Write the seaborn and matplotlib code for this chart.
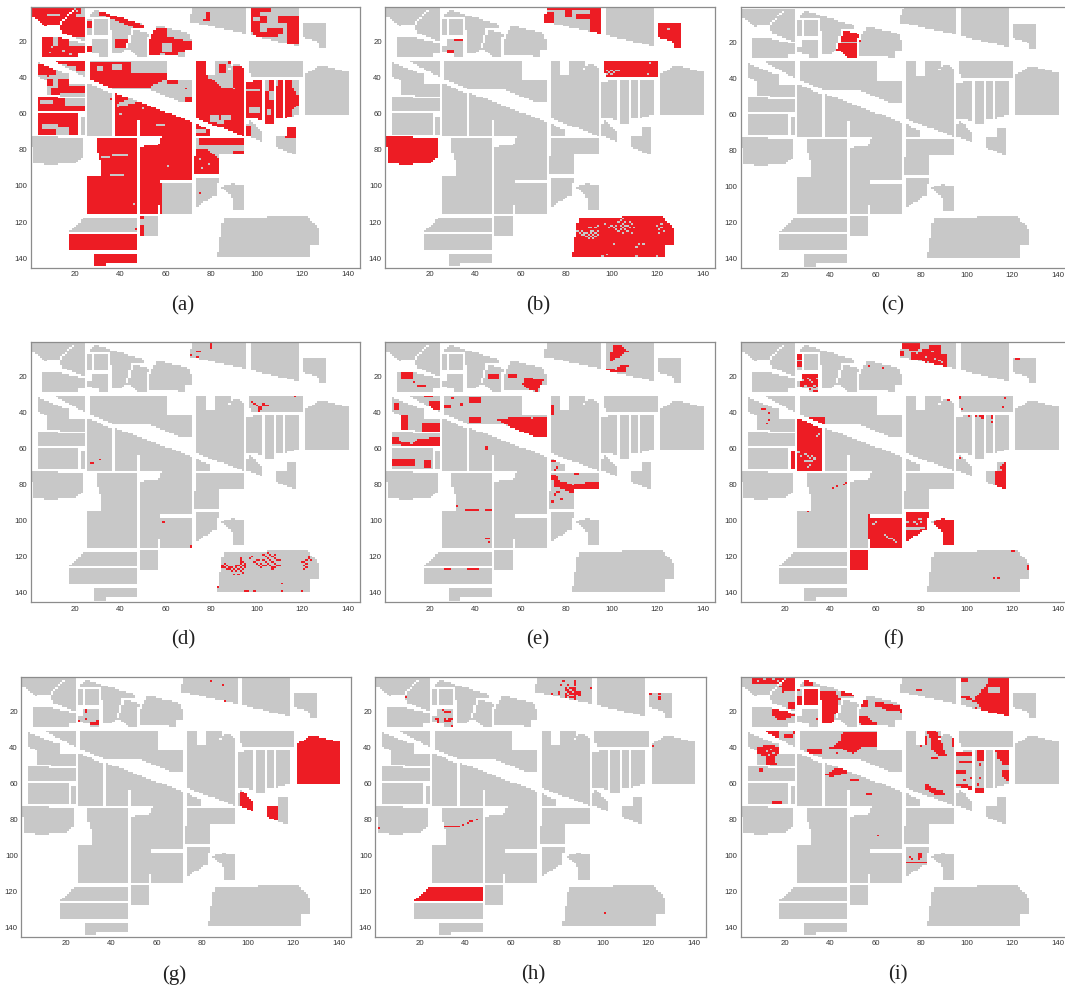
import numpy as np
import pandas as pd
import matplotlib
matplotlib.use('Agg')
import matplotlib.pyplot as plt
import seaborn as sns
from matplotlib.colors import ListedColormap
from matplotlib.path import Path

# Field outlines of the scene, (column, row)
FIELDS = [
    [(1,1),(20,1),(13,10),(7,11),(1,6)],
    [(20.5,1),(24.5,1),(24.5,20),(15,15),(13,11.5)],
    [(5.5,18),(11,17),(24.5,21),(24.5,26),(21.5,26),(21.5,28),(5.5,28)],
    [(25.5,7),(27.5,7),(27.5,16),(25.5,16)],
    [(28.5,7),(34.5,7),(34.5,16),(28.5,16)],
    [(28,18),(34.5,18),(34.5,28.5),(31,28.5),(31,27),(25.5,25.5),(25.5,22),(28,22)],
    [(26.5,5.5),(29,2.5),(50.5,10.5),(50.5,13),(45,12.5),(42,24),(40,26),(37,26),(35.5,6.5),(27,6.5)],
    [(46,13),(53,15.5),(51,20),(51.5,28.5),(48.5,28.5),(43,24)],
    [(56.7,11),(69.9,15.2),(71.3,19.6),(71.3,24.8),(68.4,24.8),(68.4,28.8),(65.5,28.8),(65,27.6),(52.3,27.6),(52.3,20.2),(54.5,13.7)],
    [(72.5,0.5),(95,0.5),(95,15.5),(70.5,9),(70.5,6)],
    [(97.5,0.5),(118.5,0.5),(118.5,22.5),(97.5,16.5)],
    [(120.5,9),(130.4,9.7),(130.4,23.9),(127.8,23.9),(127,20.2),(120.5,17.4)],
    [(3.6,31.6),(17,38),(17,43.6),(24.4,43.6),(24.4,50.6),(7.5,49.7),(7.5,41.4),(3.6,39.5)],
    [(10,30),(24.5,30),(24.5,40)],
    [(3.4,50.6),(24.5,51.5),(24.5,58.3),(3.4,58.3)],
    [(3.4,59.8),(21.5,59.8),(21.5,71.8),(3.4,71.8)],
    [(22.5,61.7),(24.5,61.7),(24.5,71.8),(22.5,71.8)],
    [(0.4,72.7),(12,72.7),(12,73.6),(23.4,73.6),(23.4,83.8),(20,87),(9.7,88.4),(1.7,87.5),(1.2,80)],
    [(26.5,30.5),(60.5,30.5),(60.5,41.5),(71.5,41.5),(71.5,53.5),(67,53.5),(51,46),(37,46),(26.5,41)],
    [(25.6,43.2),(36.4,48.8),(36.4,72.3),(25.6,72.3)],
    [(37.6,48.4),(71.3,64.4),(71.3,96.3),(57.4,96.3),(57.4,106.8),(56.4,115.1),(48.6,115.1),(48.6,78.2),(56.7,77.3),(58.1,72.7),(48.6,72.7),(48.6,63.5),(47.4,63.5),(47.4,72.3),(37.6,72.3)],
    [(29.5,73.6),(47.4,73.6),(47.4,115.1),(25.6,115.1),(25.6,94.5),(31.7,94.5),(31,85.6),(29.5,80)],
    [(57.4,98.2),(71.3,98.2),(71.3,115.1),(57.4,115.1)],
    [(24.4,117.3),(47.4,117.3),(47.4,125.3),(17.5,125.3)],
    [(17.5,126.5),(47.4,126.5),(47.4,135),(17.5,135)],
    [(48.6,116.6),(56.4,116.6),(56.4,127.1),(48.6,127.1)],
    [(28.5,137.6),(47.4,137.6),(47.4,142.4),(33.5,142.4),(33.5,144.5),(28.5,144.5)],
    [(73.5,30),(77.5,30),(77.5,38.5),(81.5,38.5),(81.5,30),(88,30),(88,35),(91,32),(94.5,35),(94.5,72.5),(73.5,62.5)],
    [(96.5,30),(120.4,30),(120.4,39.5),(97.5,39.5),(96.5,35)],
    [(95.5,42.9),(102.4,41),(102.4,63.5),(95.5,62)],
    [(103.6,41),(107.4,41),(107.4,65.7),(103.6,65.7)],
    [(108.4,41),(111.5,41),(111.5,62.6),(108.4,62.6)],
    [(112.4,41),(118.5,41),(118.5,59.8),(115.3,61.5),(112.4,62.6)],
    [(121.5,38),(127.8,33),(140.2,36.8),(140.2,60.7),(121.5,60.7)],
    [(73.5,65.7),(79.7,69),(79.7,72.3),(73.5,72.3)],
    [(95.5,72.3),(95.5,66),(97,63.5),(102.4,70),(102.4,75.5)],
    [(113.8,67.7),(117.4,67.7),(117.4,82.9),(113.8,81),(108.4,78.2),(108.4,72.7),(113.8,72.7)],
    [(73.5,73.6),(94.5,73.6),(94.5,82.9),(83,82.9),(83,93.4),(72.5,93.4),(72.5,83.8),(73.5,83.8)],
    [(73.5,95.4),(83.3,95.4),(82.3,105),(77.2,108.7),(73.5,112.4)],
    [(83.8,100.4),(88.9,98.9),(94.5,99.4),(94.5,113.3),(89.7,113.3),(88.9,105.9)],
    [(85.5,117.3),(104.3,117.3),(104.3,116.2),(121.9,116.2),(127.8,124.3),(127.8,132.6),(123.4,132.6),(123.4,139.4),(82.6,139.4),(84.5,124.3)],
]

# Red class in each panel: polygons, boxes (x0, x1, y0, y1), grey holes, single cells
POLYS_A = [
    [(5,18),(11,17),(17,17),(17,22),(25,22),(25,28),(5,28)],
    [(31,3),(40,6),(50,11),(50,13),(46,12),(38,8),(31,5)],
    [(56,12),(60,12),(60,17),(71.5,20),(71.5,25),(65,25),(65,29),(60,29),(60,26),(52,29),(52,18)],
    [(4,32),(11,33),(11,38),(8,39),(4,38)],
    [(27,31),(44,31),(44,37),(53,37),(60,37),(60,41),(53,45),(35,45),(27,41)],
    [(37.5,48),(44,51.5),(38,55),(38,56.5),(50,53),(72,64),(72,97),(58,97),(58,116),(37,116),(37,57)],
    [(73,40),(80,41),(84,45),(90,46),(90,33),(95,33),(95,73),(73,63)],
    [(73,79),(77,79),(83,85),(83,94),(73,94)],
    [(112.5,41),(115,41),(115,44),(118.5,50),(118.5,55),(115,59),(115,63),(112.5,63)],
    [(78,3),(80,3),(79,8),(77,8)],
]
RECTS_A = [
    (1,20,1,12),(14,24.5,7,17),(18,22,1,4),(25.5,27.5,9,12),(25.5,27.5,22,26),(38,43,19,23),
    (10,16,30,32),(17,24.5,31,33),(21,24.5,33,36),(8,10,41,44),(13,17,41,48),(17,25,45,48),(10,13,46,49),
    (4,15,51,55),(4,25,56,58),(3,22,59,72),(61,65,41,43),(69,71,51,53),(26,48,73,116),
    (48.5,50,116,118),(48.5,50,122,127),(17,48,126,136),(28,48,137,145),(73,78,30,40),(84,86,33,37),(88,90,30,32),
    (73,80,66,73),(75,95,74,77),(90,95,81,83),(95,97,67,72),(95,103,42,63),(103,108,41,66),(108,112,41,63),
    (113,117,68,73),(98,101,1,14),(101,106,1,3),(101,104,6,9),(99,109,15,17),(105,111,13,15),(110,118,6,9),(114,118.5,9,21),
]
HOLES_A = [
    (11,12.5,17,22),(6,12,66,68),(12,17,68,71),(5,10,53,54),(30,32,34,36),(37,40,33,35),(59,62,21,25),
    (85,88,61,63),(80,83,61,64),(83,85,64,65),(74,77,69,70),(32,35,84,84),(37,43,83,83),(36,41,94,94),
    (56,59,66,66),(96,101,47,47),(97,101,57,59),(103,105,41,47),(106,107.5,48,52),(105,106,58,60),(108,109,41,44),
    (8,13,5,5),(99,101,7,8),
]
CELLS_A = [(26,42),(36,52),(75,104),(47,124),(58,38),(61,43),(69,46)]
HOLE_CELLS_A = [(12,20),(15,25),(10,23),(18,27),(9,26),(40,60),(50,57),(61,89),(46,110),(75,85),(79,88),(76,90),(83,84),(20,2),(21,3)]

RECTS_B = [(71,74,4,9),(72,95,1,2),(91,95,1,16),(85,91,5,7),(80,82,2,6),(120,131,9,24),(31,34,19,19),(28,30,25,26),
           (96,121,30,40),(0,25,72,89),(82,128,116,140)]
HOLE_CELLS_B = [
    (125,13),(117,32),(116,38),(98,36),(99,37),(100,38),(101,37),(102,36),(103,36),(98,38),(100,36),
    (85,125),(86,126),(87,125),(87,127),(88,126),(88,127),(89,126),(89,128),(90,127),(91,125),(91,126),(91,128),(92,125),(92,127),
    (93,123),(93,126),(93,128),(94,122),(94,125),(94,127),(90,123),(91,123),(92,129),(90,129),
    (97,121),(99,123),(100,122),(101,123),(102,122),(102,124),(103,120),(103,125),(104,119),(104,122),(104,124),(105,118),(105,121),
    (105,123),(105,126),(106,120),(106,122),(106,124),(107,122),(107,125),(108,120),(108,123),(109,121),(109,126),(110,123),
    (120,122),(121,124),(121,126),(122,123),(122,121),(123,125),(101,132),(111,134),(112,132),(114,132),(96,139),(98,138),(111,139),(120,139),
]

RECTS_C = [(45,53.5,14,19),(43,52,21,29)]

CELLS_D = [
    (71,8),(74,6),(75,6),(74,9),(80,2),(80,3),(80,4),(121,19),(96,32),(117,31),(98,34),(99,35),(100,36),(101,37),(101,38),(101,39),
    (102,37),(103,36),(104,36),(105,36),(102,38),(103,35),(27,68),(28,68),(31,66),(59,101),(71,114),(71,115),
    (85,125),(85,126),(86,124),(86,126),(87,125),(87,127),(88,126),(88,127),(89,126),(89,128),(90,127),(90,130),(91,125),(91,126),(91,128),
    (92,125),(92,127),(92,130),(93,121),(93,122),(93,123),(93,124),(93,126),(93,128),(94,123),(94,125),(94,127),(94,129),(95,124),(95,125),
    (95,126),(97,121),(98,120),
    (99,123),(100,122),(100,124),(101,122),(101,125),(102,124),(102,126),(103,119),(103,122),(103,125),(104,120),(104,123),(104,125),(105,118),
    (105,121),(105,124),(106,119),(106,122),(106,125),(107,120),(107,123),(107,126),(107,127),(108,119),(108,121),(108,124),(108,126),(109,122),(109,125),(110,122),(110,125),
    (120,123),(121,123),(121,125),(121,127),(122,122),(122,124),(122,126),(123,120),(123,121),(124,122),
    (83,137),(95,139),(96,139),(99,139),(111,135),(111,139),(120,139),
]

POLYS_E = [
    [(101,2),(104,2),(107,6),(103,9),(100,11),(100,7)],
    [(97.5,15),(102,16),(105,13),(107,14),(106,17),(98,18)],
    [(62,20),(65,21),(70,22),(67,28),(64,27),(61,24)],
    [(50,44),(60,42),(65,43),(71.5,42),(71.5,53),(68,54),(62,51),(56,48)],
    [(4,53),(6,53),(7,56),(12,57),(15,55),(24.5,53),(24.5,58),(17,58),(12,59),(4,57)],
    [(73,74),(75,74),(77,78),(83,80),(95,78),(95,82),(88,82),(84,85),(80,83),(75,81)],
]
RECTS_E = [
    (55,58,19,20),(46,50,19,21),(8,12,18,21),(18,21,31,31),(20,24.5,34,38),(27,29,36,37),(38,42,32,34),(38,42,43,45),
    (73,74.5,36,41),(5,6,35,38),(8,10,42,49),(17,25,46,50),(4,13,66,69),(18,20,67,70),(74,76,67,67),
    (36,41,94,94),(45,47,94,94),(45,46,110,110),(27,29,127,127),(37,41,127,127),
]
CELLS_E = [(13,23),(15,25),(16,25),(17,25),(18,25),(30,32),(34,35),(34,36),(23,46),(45,59),(45,60),(76,70),(76,71),(75,72),
           (84,74),(85,74),(75,85),(75,86),(76,84),(77,84),(74,90),(78,88),(74,89),(32,92),(46,112)]

RECTS_F = [
    (72,75,2,4),(70,72,6,8),(75,79,2,5),(76,80,7,10),(81,84,5,14),(84,88,3,13),(86,91,8,14),
    (27,35,19,25),(26,27,7,10),(26,27,12,14),(26,37,43,73),(22,25,61,72),(112.5,118,73,83),(115,118,68,73),
    (57,72,97,116),(48,57,116,128),(73,84,95,113),(83,95,98,114),
]
HOLE_CELLS_F = [
    (29,63),(30,64),(31,65),(32,64),(33,65),(29,67),(30,67),(31,67),(32,67),(33,66),(27,64),(26,62),(31,69),(30,70),(34,53),(35,52),
    (115,68),(115,69),(116,68),(115,72),(64,108),(65,109),(66,110),(67,110),(68,111),(69,112),(60,101),(59,102),
    (74,104),(75,104),(76,104),(77,104),(78,104),(79,104),(80,104),(81,104),(74,105),(75,105),(76,105),(77,105),(78,105),(79,105),(79,99),(80,99),(80,101),(78,102),(77,101),
    (74,101),(85,101),(86,100),(28,22),(30,21),(32,23),(34,21),(29,25),(33,25),(31,22),(78,7),(79,5),(82,9),(83,12),(85,6),(86,10),(88,11),(89,12),
]
CELLS_F = [
    (41,82),(43,81),(46,80),(47,79),(30,95),(10,38),(11,38),(13,40),(13,44),(12,46),(18,1),(19,1),(57,14),(63,15),(84,30),(86,30),(92,33),
    (97,31),(97,32),(98,38),(117,32),(116,37),(101,42),(104,42),(106,42),(107,42),(107,43),(111,42),(111,43),(111,45),(97,65),
    (120,117),(121,117),(122,10),(123,10),(127,125),(127,126),(127,127),(112,132),(114,132),(28,27),(30,27),(31,27),(33,28),(34,28),(33,26),(28,18),(30,18),(34,18),
]

RECTS_G = [(121,141,32,61),(97,103,65,76),(108.5,113,72,80),(29,34,27,27),(31,34,26,26)]
CELLS_G = [(29,19),(29,20),(29,24),(26,25),(34,25),(84,3),(89,5),(90,14)]

RECTS_H = [(17,48,117,126),(31,37,84,84),(84,88,7,12)]
CELLS_H = [
    (14,12),(7,44),(2,85),(101,132),(122,39),(121,10),(125,10),(125,12),(125,13),(39,83),(41,82),(42,81),(43,81),(45,80),(31,86),(31,87),
    (27,22),(29,18),(30,19),(31,20),(32,20),(33,18),(33,20),(27,24),(28,24),(28,25),(28,26),(28,27),(31,24),(31,25),(32,25),(33,24),(33,25),(34,24),(34,28),
    (83,3),(82,5),(78,10),(81,9),(81,10),(88,3),(88,4),(88,5),(89,9),(89,10),(90,9),(90,10),(90,11),(88,13),(95,7),(85,5),
]
HOLE_CELLS_H = [(85,7),(84,9),(86,11),(87,9),(86,8),(85,12),(87,11),(85,10)]

POLYS_I = [
    [(21,1),(24,1),(24,8),(19,9),(18,6)],
    [(15,18),(18,18),(24.5,22),(20,24),(17,24),(15,22)],
    [(36,8),(42,9),(44,13),(43,20),(41,23),(41,27),(37,27),(36,20)],
    [(60,14),(71,17),(71,20),(65,19),(60,17)],
    [(52,22),(55,22),(60,26),(60,28),(54,27),(52,26)],
    [(110,1),(118.5,1),(118.5,23),(107,19),(105,15),(97,12),(99,11),(103,13),(107,8),(109,5)],
    [(8,40),(13,38),(18,40),(17,43),(15,46),(16,49),(12,49),(12,45),(8,43)],
    [(47,31),(60,31),(60,39),(54,39),(50,43),(46,41),(40,40),(44,37),(45,33)],
    [(38,55),(43,51),(47,52),(47,54),(40,56.5)],
    [(83,30),(86,30),(88,34),(90,42),(91,44),(88,44),(85,41),(85,36),(83,32)],
    [(82,60),(84,62),(89,64),(90,66),(86,66),(82,63)],
    [(96,60),(99,60),(102,62),(102,64),(99,63),(96,61)],
    [(112.5,41),(118.5,41),(118.5,50),(116,49),(114,46)],
    [(116,52),(118,53),(118.5,59),(116,56)],
]
RECTS_I = [
    (6,12,1,4),(13,19,1,4),(22,24.5,15,18),(29,32,3,5),(45,50,8,11),(28,35,7,17),(26,27,12,16),(54,56,14,17),(97.5,100,1,3),
    (78,80,8,8),(12,17,30,34),(20,23,33,34),(9,10,52,53),(15,18,70,72),(30,36,41,43),(49,52,58,58),(56,58,66,66),
    (82,82,34,38),(85,87,46,46),(94,95,35,39),(96,102,43,44),(97,102,48,48),(96,99,53,54),(105,107,42,47),(104,108,63,65),(108,110,41,41),
    (74,82,104,104),(79,80,99,101),
]
HOLES_I = [(110,114,7,9)]
HOLE_CELLS_I = [(8,3),(11,2),(15,2),(17,3),(12,42),(14,41),(13,44),(15,43)]
CELLS_I = [(26,8),(34,24),(24,31),(24,32),(43,43),(61,89),(104,18),(80,39),(102,57),(99,58),(106,49),(106,50),(105,60),(106,57),(105,61),(75,101),(76,102),(80,100),(79,102)]

LETTERS = ['a', 'b', 'c', 'd', 'e', 'f', 'g', 'h', 'i']
ALL_POLYS = [POLYS_A, [], [], [], POLYS_E, [], [], [], POLYS_I]
ALL_RECTS = [RECTS_A, RECTS_B, RECTS_C, [], RECTS_E, RECTS_F, RECTS_G, RECTS_H, RECTS_I]
ALL_HOLES = [HOLES_A, [], [], [], [], [], [], [], HOLES_I]
ALL_HOLE_CELLS = [HOLE_CELLS_A, HOLE_CELLS_B, [], [], [], HOLE_CELLS_F, [], HOLE_CELLS_H, HOLE_CELLS_I]
ALL_CELLS = [CELLS_A, [], [], CELLS_D, CELLS_E, CELLS_F, CELLS_G, CELLS_H, CELLS_I]
TICKS = [20, 40, 60, 80, 100, 120, 140]

# panel boxes in pixels: left, right, top, bottom
BOXES = [
    (30.7, 360, 6.5, 268), (385.3, 715, 6.5, 268), (740.7, 1070, 7.3, 268.3),
    (30.7, 360, 341.7, 602.3), (385.3, 715, 341.7, 602.3), (740.7, 1070, 341.7, 602.3),
    (21.3, 351.3, 676.7, 937), (375.3, 706.3, 676.7, 937), (740.7, 1070, 676.7, 937),
]
CAPTIONS = [(183, 306), (538, 306), (893, 306), (183, 640), (538, 640), (893, 640), (174, 975), (533, 975), (898, 975)]

xx, yy = np.meshgrid(np.arange(1, 146), np.arange(1, 146))
pts = np.column_stack([xx.ravel(), yy.ravel()])


def inside(poly):
    return Path(poly).contains_points(pts).reshape(xx.shape)


def box(r):
    return (xx >= r[0]) & (xx <= r[1]) & (yy >= r[2]) & (yy <= r[3])


field = np.zeros(xx.shape, dtype=bool)
for f in FIELDS:
    field |= inside(f)

sns.set_theme(style='white')
plt.rcParams['font.family'] = ['Liberation Sans', 'DejaVu Sans']
cmap = ListedColormap(['#ffffff', '#c8c8c8', '#ed1c24'])

W, H = 1065, 985
fig = plt.figure(figsize=(W / 100, H / 100), dpi=100, facecolor='white')

for i, letter in enumerate(LETTERS):
    red = np.zeros(xx.shape, dtype=bool)
    for p in ALL_POLYS[i]:
        red |= inside(p)
    for r in ALL_RECTS[i]:
        red |= box(r)
    for r in ALL_HOLES[i]:
        red &= ~box(r)
    for x, y in ALL_HOLE_CELLS[i]:
        red[y - 1, x - 1] = False
    for x, y in ALL_CELLS[i]:
        red[y - 1, x - 1] = True

    grid = pd.DataFrame(field.astype(int) + (red & field).astype(int))

    l, r, t, b = BOXES[i]
    ax = fig.add_axes([l / W, 1 - b / H, (r - l) / W, (b - t) / H])
    sns.heatmap(grid, ax=ax, cmap=cmap, vmin=0, vmax=2, cbar=False, xticklabels=False, yticklabels=False)
    ax.set_xticks([v - 0.5 for v in TICKS], labels=TICKS)
    ax.set_yticks([v - 0.5 for v in TICKS], labels=TICKS, rotation=0)
    ax.tick_params(direction='in', length=2.2, width=0.5, color='#666666', labelcolor='#333333',
                   labelsize=5.6, top=True, right=True, bottom=True, left=True, pad=2.5)
    for s in ax.spines.values():
        s.set_visible(True)
        s.set_color('#8c8c8c')
        s.set_linewidth(0.9)
    ax.set_xlabel('')
    ax.set_ylabel('')

    cx, cy = CAPTIONS[i]
    fig.text(cx / W, 1 - cy / H, f'({letter})', ha='center', va='center', fontsize=15,
             family=['Liberation Serif'], color='#222222')

plt.savefig('out.png', dpi=100)
plt.close()
